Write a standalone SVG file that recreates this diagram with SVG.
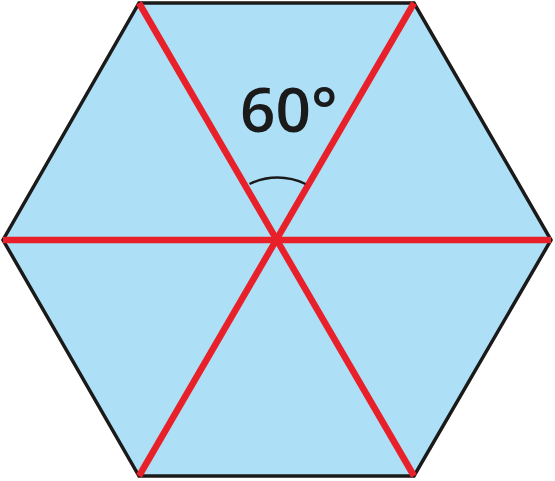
<svg xmlns="http://www.w3.org/2000/svg" width="555" height="481" viewBox="0 0 555 481">
<style>
.hex{fill:#ADDFF6;stroke:#1a1a1a;stroke-width:3.5;stroke-linejoin:miter}
.red{stroke:#E8202A;stroke-width:6.5;fill:none}
.arc{stroke:#1a1a1a;stroke-width:2.5;fill:none}
.lbl{font-family:"Open Sans","Noto Sans",sans-serif;font-size:62px;font-weight:600;fill:#1a1a1a}
</style>
<g id="hexagon">
<polygon class="hex" points="139,3 414,3 551,240 414,476 139,476 3,240"/>
</g>
<g id="connectors">
<line class="red" x1="139" y1="3" x2="414" y2="476"/>
<line class="red" x1="414" y1="3" x2="139" y2="476"/>
<line class="red" x1="3" y1="240" x2="551" y2="240"/>
<path class="arc" d="M 249.5 184 A 64 64 0 0 1 305.5 184"/>
</g>
<g id="label">
<text class="lbl" x="240" y="132">60°</text>
</g>
</svg>
